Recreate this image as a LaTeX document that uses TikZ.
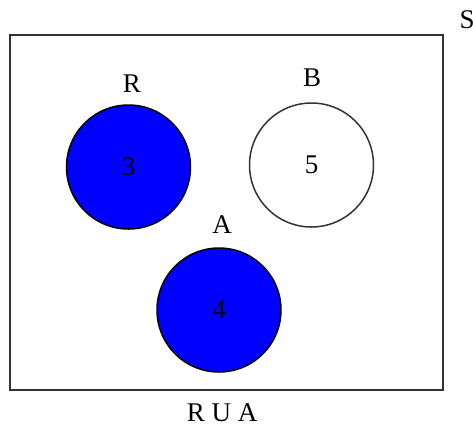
\documentclass[tikz,border=0pt]{standalone}
\usepackage{fontspec}
\setmainfont{Liberation Serif}
\usetikzlibrary{positioning}

\begin{document}
\begin{tikzpicture}[x=1pt, y=-1pt,
    set/.style={circle, draw=black, line width=1.5pt, minimum size=124pt, inner sep=0pt, font=\fontsize{27}{31}\selectfont},
    shaded/.style={set, fill=blue},
    lbl/.style={font=\fontsize{27}{31}\selectfont, inner sep=0pt}]
  \useasboundingbox (0,0) rectangle (473,432);
  % universe
  \draw[line width=1.5pt, draw=black!80] (10,35) rectangle (443,390);
  \node[lbl] (S) at (467,20) {S};
  % sets
  \node[shaded] (R) at (128.5,167) {3};
  \node[set, draw=black!80] (B) at (311.5,165) {5};
  \node[shaded] (A) at (219,310) {4};
  \node[lbl] (Rl) at (132,84) {R};
  \node[lbl] (Bl) at (312,78) {B};
  \node[lbl] (Al) at (222,225) {A};
  % caption
  \node[lbl] (cap) at (222,413) {R U A};
\end{tikzpicture}
\end{document}
